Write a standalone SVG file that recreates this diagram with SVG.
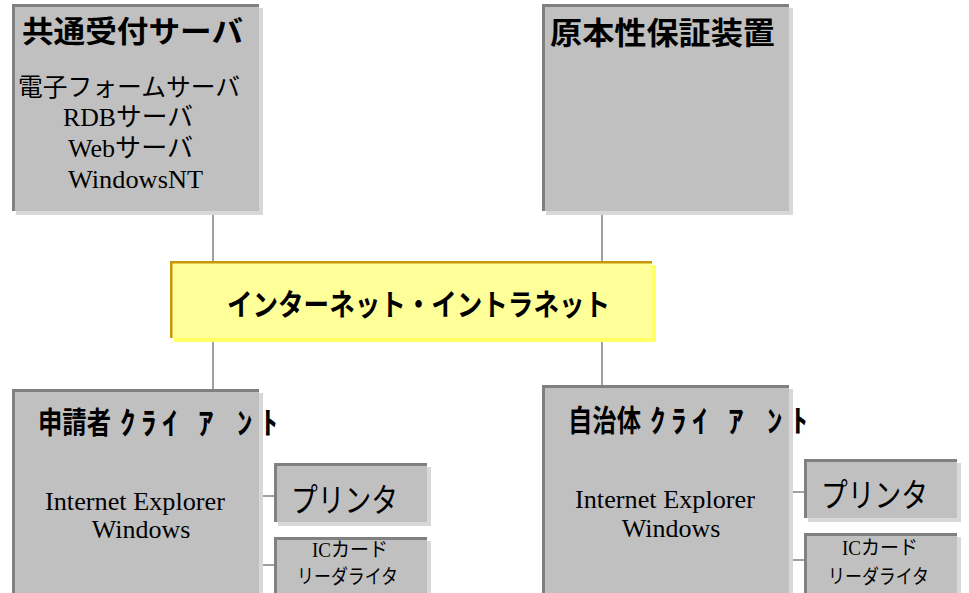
<svg xmlns="http://www.w3.org/2000/svg" width="969" height="593" viewBox="0 0 969 593">
<style>
.shadow{fill:#D8D8D8}
.fill{fill:#C0C0C0}
.edge{fill:none;stroke:#808080;stroke-width:3}
.yshadow{fill:#FFFF66}
.yfill{fill:#FFFF99}
.yedge{fill:none;stroke:#C8960A;stroke-width:2.5}
.conn line{stroke:#808080;stroke-width:1.5}
.title{font-family:"Noto Sans CJK JP",sans-serif;font-weight:700;fill:#000}
.kana{font-family:"Noto Sans CJK JP",sans-serif;font-weight:700;fill:#000;font-size:31px}
.body{font-family:"Liberation Serif","Noto Sans CJK JP",serif;fill:#000}
.goth{font-family:"Noto Sans CJK JP",sans-serif;fill:#000}
</style>
<rect width="969" height="593" fill="#FFFFFF"/>
<g id="connectors" class="conn">
<line x1="213" y1="213" x2="213" y2="262"/>
<line x1="602" y1="213" x2="602" y2="262"/>
<line x1="213" y1="340" x2="213" y2="390"/>
<line x1="602" y1="340" x2="602" y2="386"/>
<line x1="259" y1="496" x2="275" y2="496"/>
<line x1="259" y1="565" x2="275" y2="565"/>
<line x1="789" y1="492" x2="805" y2="492"/>
<line x1="789" y1="560" x2="805" y2="560"/>
</g>
<g id="kyotsu-server">
<rect class="shadow" x="16" y="8" width="247" height="207"/>
<rect class="fill" x="12" y="4" width="247" height="207"/>
<path class="edge" d="M13.5,211 V5.5 H259"/>
<text class="title" x="22" y="42" font-size="30" textLength="221" lengthAdjust="spacingAndGlyphs">共通受付サーバ</text>
<text class="goth" x="18" y="96" font-size="25" textLength="222" lengthAdjust="spacingAndGlyphs">電子フォームサーバ</text>
<text class="body" x="63" y="126" font-size="26" textLength="130" lengthAdjust="spacingAndGlyphs">RDBサーバ</text>
<text class="body" x="68" y="157" font-size="26" textLength="125" lengthAdjust="spacingAndGlyphs">Webサーバ</text>
<text class="body" x="68" y="188" font-size="26" textLength="135" lengthAdjust="spacingAndGlyphs">WindowsNT</text>
</g>
<g id="genponsei">
<rect class="shadow" x="546" y="8" width="247" height="207"/>
<rect class="fill" x="542" y="4" width="247" height="207"/>
<path class="edge" d="M543.5,211 V5.5 H789"/>
<text class="title" x="550" y="44" font-size="31" textLength="225" lengthAdjust="spacingAndGlyphs">原本性保証装置</text>
</g>
<g id="internet">
<rect class="yshadow" x="174" y="265" width="482" height="77"/>
<rect class="yfill" x="170" y="261" width="482" height="77"/>
<path class="yedge" d="M171.25,338 V262.25 H652"/>
<text class="title" x="227" y="315" font-size="30" textLength="383" lengthAdjust="spacingAndGlyphs">インターネット・イントラネット</text>
</g>
<g id="shinseisha-client">
<rect class="shadow" x="16" y="393" width="247" height="220"/>
<rect class="fill" x="12" y="389" width="247" height="220"/>
<path class="edge" d="M13.5,609 V390.5 H259"/>
<text class="title" x="38" y="433" font-size="30" textLength="73" lengthAdjust="spacingAndGlyphs">申請者</text>
<text class="kana" y="434" x="120 141 162 198 237 262">ｸﾗｲｱﾝﾄ</text>
<text class="body" x="45" y="510" font-size="26" textLength="180" lengthAdjust="spacingAndGlyphs">Internet Explorer</text>
<text class="body" x="141" y="538" font-size="26" text-anchor="middle">Windows</text>
</g>
<g id="printer-left">
<rect class="shadow" x="278" y="467" width="153" height="59"/>
<rect class="fill" x="274" y="463" width="153" height="59"/>
<path class="edge" d="M275.5,522 V464.5 H427"/>
<text class="goth" x="291" y="512" font-size="33" textLength="107" lengthAdjust="spacingAndGlyphs">プリンタ</text>
</g>
<g id="icreader-left">
<rect class="shadow" x="278" y="541" width="153" height="70"/>
<rect class="fill" x="274" y="537" width="153" height="70"/>
<path class="edge" d="M275.5,607 V538.5 H427"/>
<text class="body" x="312" y="557" font-size="20" textLength="76" lengthAdjust="spacingAndGlyphs">ICカード</text>
<text class="goth" x="297" y="584" font-size="20" textLength="101" lengthAdjust="spacingAndGlyphs">リーダライタ</text>
</g>
<g id="jichitai-client">
<rect class="shadow" x="546" y="389" width="247" height="220"/>
<rect class="fill" x="542" y="385" width="247" height="220"/>
<path class="edge" d="M543.5,605 V386.5 H789"/>
<text class="title" x="568" y="431" font-size="30" textLength="73" lengthAdjust="spacingAndGlyphs">自治体</text>
<text class="kana" y="432" x="650 671 692 728 767 792">ｸﾗｲｱﾝﾄ</text>
<text class="body" x="575" y="508" font-size="26" textLength="180" lengthAdjust="spacingAndGlyphs">Internet Explorer</text>
<text class="body" x="671" y="537" font-size="26" text-anchor="middle">Windows</text>
</g>
<g id="printer-right">
<rect class="shadow" x="808" y="463" width="153" height="59"/>
<rect class="fill" x="804" y="459" width="153" height="59"/>
<path class="edge" d="M805.5,518 V460.5 H957"/>
<text class="goth" x="821" y="507" font-size="33" textLength="107" lengthAdjust="spacingAndGlyphs">プリンタ</text>
</g>
<g id="icreader-right">
<rect class="shadow" x="808" y="537" width="153" height="70"/>
<rect class="fill" x="804" y="533" width="153" height="70"/>
<path class="edge" d="M805.5,603 V534.5 H957"/>
<text class="body" x="842" y="555" font-size="20" textLength="76" lengthAdjust="spacingAndGlyphs">ICカード</text>
<text class="goth" x="828" y="584" font-size="20" textLength="101" lengthAdjust="spacingAndGlyphs">リーダライタ</text>
</g>
</svg>
